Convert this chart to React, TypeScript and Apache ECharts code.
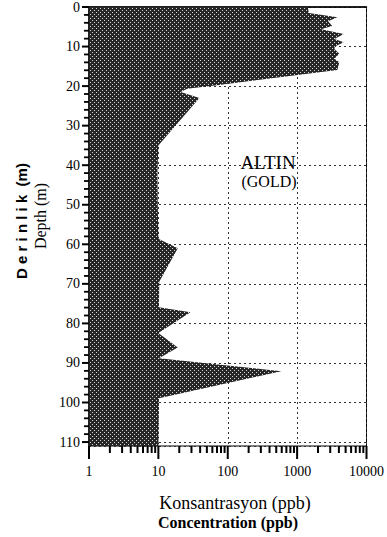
import React, { useEffect, useRef } from "react";
import * as echarts from "echarts";

// Depth (m) of each vertex of the profile, and the gold concentration (ppb) there
const depths = [
  0, 1.5, 2.6, 3.6, 4.8, 5.6, 6.8, 8.1, 8.9, 10.0, 10.6, 11.8, 13.1, 14.0, 15.9,
  19.8, 20.7, 21.5, 23.0, 35.0, 42.0, 50.0, 58.6, 61.0, 69.5, 75.9, 77.2, 82.4,
  86.1, 88.8, 92.1, 98.9, 111,
];
const concentrations = [
  1420, 1480, 3800, 2800, 3200, 2220, 4700, 3450, 4700, 3500, 3450, 4050, 3450,
  4050, 3800, 70, 26, 21, 39, 10, 9.7, 9.8, 10, 19, 10.3, 10.2, 29, 10, 19, 10.2,
  590, 10.2, 10,
];

const xMajorTicks = [1, 10, 100, 1000, 10000];
const xMinorTicks = [
  2, 3, 4, 5, 6, 7, 8, 9, 20, 30, 40, 50, 60, 70, 80, 90, 200, 300, 400, 500, 600,
  700, 800, 900, 2000, 3000, 4000, 5000, 6000, 7000, 8000, 9000,
];
const yMajorTicks = [0, 10, 20, 30, 40, 50, 60, 70, 80, 90, 100, 110];
const yMinorTicks = [
  2, 4, 6, 8, 12, 14, 16, 18, 22, 24, 26, 28, 32, 34, 36, 38, 42, 44, 46, 48, 52,
  54, 56, 58, 62, 64, 66, 68, 72, 74, 76, 78, 82, 84, 86, 88, 92, 94, 96, 98, 102,
  104, 106, 108,
];

const Y_MIN = 0;
const Y_MAX = 111;
const X_MIN = 1;
const X_MAX = 10000;

const SERIF = "Liberation Serif";
const SANS = "Liberation Sans";

export default function App() {
  const ref = useRef<HTMLDivElement>(null);

  useEffect(() => {
    if (!ref.current) return;
    const chart = echarts.init(ref.current, null, { renderer: "svg" });

    const canvas = document.createElement("canvas");
    canvas.width = 4;
    canvas.height = 4;
    const ctx = canvas.getContext("2d")!;
    ctx.fillStyle = "#262626";
    ctx.fillRect(0, 0, 4, 4);
    ctx.fillStyle = "#d8d8d8";
    ctx.fillRect(0, 0, 1, 1);
    ctx.fillRect(2, 2, 1, 1);
    const pattern: any = {
      image: canvas.toDataURL(),
      repeat: "repeat",
      imageWidth: 4,
      imageHeight: 4,
    };

    const axisLineStyle = { color: "#000", width: 1.5 };
    const gridLine = { show: true, lineStyle: { color: "#333", width: 1, type: [2, 3] } };

    const text = (
      t: string,
      x: number,
      y: number,
      size: number,
      family: string,
      weight: string = "normal",
      rotation = 0
    ) => ({
      type: "text",
      x,
      y,
      rotation,
      z: 10,
      style: {
        text: t,
        fontSize: size,
        fontFamily: family,
        fontWeight: weight,
        fill: "#000",
        textAlign: "center",
        textVerticalAlign: "middle",
      },
    });

    const texts = [
      text("ALTIN", 268, 162, 19, SERIF),
      text("(GOLD)", 269, 181, 16, SERIF),
      text("Konsantrasyon (ppb)", 235, 503, 18, SERIF),
      text("Concentration (ppb)", 228, 522, 16, SERIF, "bold"),
      text("D e r i n l i k  (m)", 21, 221, 15, SANS, "bold", Math.PI / 2),
      text("Depth (m)", 40, 216, 16, SERIF, "normal", Math.PI / 2),
    ];

    chart.setOption({
      animation: false,
      backgroundColor: "#fff",
      grid: {
        left: 89,
        right: 14,
        top: 6,
        bottom: 91,
        show: true,
        borderColor: "#000",
        borderWidth: 1,
        backgroundColor: "transparent",
      },
      xAxis: {
        type: "log",
        logBase: 10,
        min: X_MIN,
        max: X_MAX,
        position: "bottom",
        axisLine: { show: true, lineStyle: axisLineStyle },
        axisTick: { show: false },
        axisLabel: {
          color: "#000",
          fontFamily: SERIF,
          fontSize: 14,
          margin: 18,
          formatter: (v: number) => String(Math.round(v)),
        },
        splitLine: gridLine,
        minorTick: { show: false },
      },
      yAxis: {
        type: "value",
        inverse: true,
        min: Y_MIN,
        max: Y_MAX,
        interval: 10,
        position: "left",
        axisLine: { show: true, lineStyle: axisLineStyle },
        axisTick: { show: false },
        axisLabel: {
          color: "#000",
          fontFamily: SERIF,
          fontSize: 14,
          margin: 9,
          showMaxLabel: false,
        },
        splitLine: gridLine,
      },
      series: [
        {
          type: "custom",
          coordinateSystem: "cartesian2d",
          clip: true,
          data: depths.map((d, i) => [concentrations[i], d]),
          renderItem: (params: any, api: any) => {
            if (params.dataIndex !== 0) return null;
            const pts = depths.map((d, i) => api.coord([concentrations[i], d]));
            const topLeft = api.coord([X_MIN, depths[0]]);
            const bottomLeft = api.coord([X_MIN, depths[depths.length - 1]]);
            return {
              type: "polygon",
              shape: { points: [topLeft, ...pts, bottomLeft] },
              style: { fill: pattern, stroke: null },
            };
          },
          z: 2,
        },
      ],
      graphic: texts,
    });

    // Tick marks placed through the chart's own scales
    const ticks: any[] = [];
    const addTick = (value: number[], dx: number, dy: number, w: number) => {
      const p = chart.convertToPixel({ gridIndex: 0 }, value) as number[];
      if (!p || isNaN(p[0]) || isNaN(p[1])) return;
      ticks.push({
        type: "line",
        z: 10,
        shape: { x1: p[0], y1: p[1], x2: p[0] + dx, y2: p[1] + dy },
        style: { stroke: "#000", lineWidth: w },
      });
    };
    xMajorTicks.forEach((v) => addTick([v, Y_MAX], 0, 13, 2));
    xMinorTicks.forEach((v) => addTick([v, Y_MAX], 0, 7, 2));
    yMajorTicks.forEach((v) => addTick([X_MIN, v], -7, 0, 2));
    yMinorTicks.forEach((v) => addTick([X_MIN, v], -5, 0, 1.8));

    chart.setOption({ graphic: [...texts, ...ticks] });

    return () => chart.dispose();
  }, []);

  return (
    <div
      ref={ref}
      style={{ position: "fixed", left: 0, top: 0, width: 387, height: 537 }}
    />
  );
}
